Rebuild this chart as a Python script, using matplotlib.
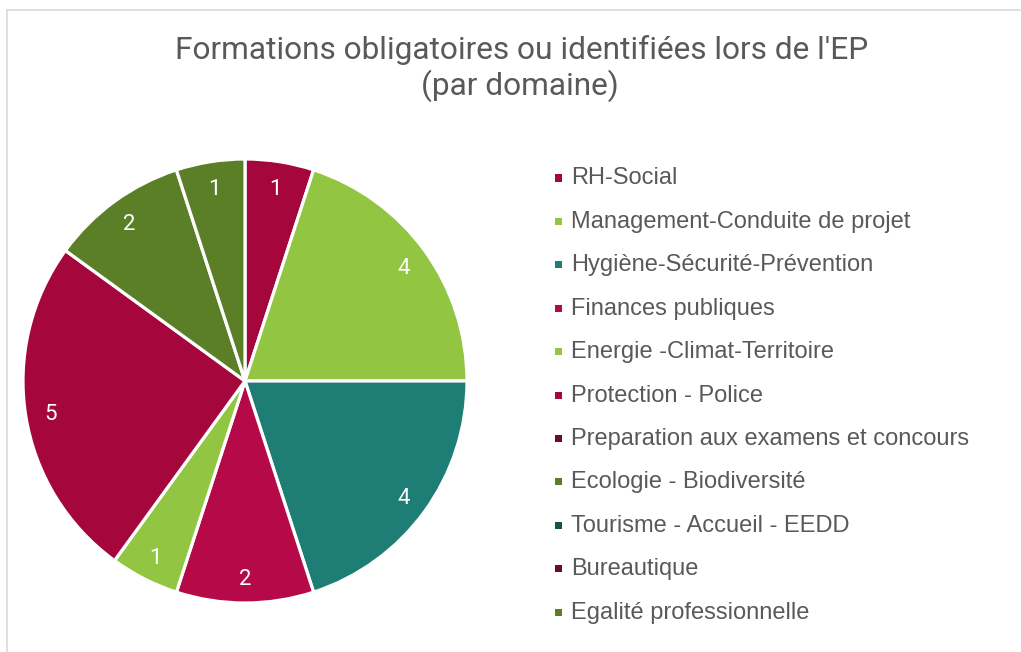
import matplotlib
matplotlib.use("Agg")
import matplotlib.pyplot as plt
from matplotlib.patches import Rectangle
from matplotlib.lines import Line2D

title_line1 = "Formations obligatoires ou identifiées lors de l'EP"
title_line2 = "(par domaine)"

categories = [
    "RH-Social",
    "Management-Conduite de projet",
    "Hygiène-Sécurité-Prévention",
    "Finances publiques",
    "Energie -Climat-Territoire",
    "Protection - Police",
    "Preparation aux examens et concours",
    "Ecologie - Biodiversité",
    "Tourisme - Accueil - EEDD",
    "Bureautique",
    "Egalité professionnelle",
]
values = [1, 4, 4, 2, 1, 5, 0, 2, 0, 0, 1]
colors = [
    "#A5063C", "#92C642", "#1E7D74", "#B50A47", "#92C642", "#A5073D",
    "#6B0A2A", "#5B7F27", "#14524C", "#6B0A2A", "#5B7F27",
]

W, H = 1021, 652
fig = plt.figure(figsize=(W / 100, H / 100), dpi=100)
fig.patch.set_facecolor("white")

# border lines
fig.add_artist(Line2D([7 / W, 7 / W], [0, 1 - 10 / H], color="#D9D9D9", lw=1.2))
fig.add_artist(Line2D([7 / W, 1], [1 - 10 / H, 1 - 10 / H], color="#D9D9D9", lw=1.2))

# pie
cx, cy, r = 245, 381, 222
ax = fig.add_axes([(cx - r) / W, (H - cy - r) / H, 2 * r / W, 2 * r / H])
nz = [(v, c) for v, c in zip(values, colors) if v > 0]
pv = [v for v, c in nz]
pc = [c for v, c in nz]
wedges, texts = ax.pie(
    pv, colors=pc, startangle=90, counterclock=False, radius=1,
    labels=[str(v) for v in pv], labeldistance=0.885,
    wedgeprops=dict(edgecolor="white", linewidth=2.3),
    textprops=dict(color="white", fontsize=16, family=["Roboto", "DejaVu Sans"]),
)
for t in texts:
    t.set_ha("center")
    t.set_va("center_baseline")
ax.set_xlim(-1, 1)
ax.set_ylim(-1, 1)
ax.set_aspect("equal")
ax.axis("off")

# title
tfam = ["Roboto", "DejaVu Sans"]
fig.text(522 / W, 1 - 50 / H, title_line1, ha="center", va="center",
         fontsize=22.8, color="#595959", family=tfam)
fig.text(520 / W, 1 - 86 / H, title_line2, ha="center", va="center",
         fontsize=22.8, color="#595959", family=tfam)

# legend
y0, dy = 178.5, 43.4
for i, (name, c) in enumerate(zip(categories, colors)):
    y = y0 + i * dy
    fig.add_artist(Rectangle(((555) / W, 1 - (y + 3) / H), 7 / W, 7 / H,
                             facecolor=c, edgecolor="none", transform=fig.transFigure))
    fig.text(571 / W, 1 - y / H, name, ha="left", va="center",
             fontsize=17, color="#595959", family=["Liberation Sans", "DejaVu Sans"])

fig.savefig("out.png", dpi=100, facecolor="white")
